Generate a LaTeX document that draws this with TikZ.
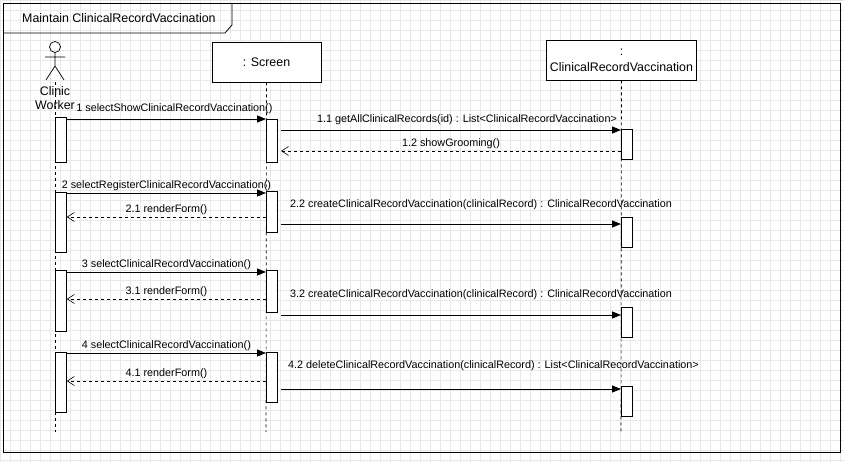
\documentclass[tikz,border=0pt]{standalone}
\usepackage{fontspec}
\setmainfont{Liberation Sans}
\usetikzlibrary{arrows.meta}
\begin{document}
\begin{tikzpicture}[x=1pt,y=-1pt,
  lbl/.style={font=\fontsize{10.8}{12}\selectfont,inner sep=0pt},
  act/.style={draw,fill=white,line width=0.8pt},
  life/.style={line width=0.6pt,dash pattern=on 3pt off 3pt},
  msg/.style={line width=0.8pt,-{Triangle[length=9pt,width=7pt]}},
  ret/.style={line width=0.6pt,dash pattern=on 3pt off 3pt,-{Straight Barb[length=7pt,width=9pt]}},
  obj/.style={draw,fill=white,line width=0.8pt,font=\fontsize{12.4}{16}\selectfont,align=center}]
\useasboundingbox (0,0) rectangle (844,462);
\fill[white] (0,0) rectangle (844,462);
\foreach \i in {0,10,...,840} \draw[black!9,line width=0.5pt] (\i,0) -- (\i,462);
\foreach \i in {0,10,...,460} \draw[black!9,line width=0.5pt] (0,\i) -- (844,\i);
% frame
\draw[line width=0.8pt] (3,3) rectangle (840,452);
\draw[line width=0.8pt] (3,33) -- (225,33) -- (232,25) -- (232,3);
\node[font=\fontsize{12.4}{14}\selectfont,anchor=west,inner sep=0pt] (title) at (22,18) {Maintain ClinicalRecordVaccination};
% actor
\draw[line width=0.7pt] (55,47) circle (5.5);
\draw[line width=0.7pt] (55,52.5) -- (55,66) (45,57) -- (65,57) (55,66) -- (46,80) (55,66) -- (64,80);
\node[font=\fontsize{12.4}{14}\selectfont,align=center,inner sep=0pt] (actor) at (55,98) {Clinic\\Worker};
\coordinate (a0) at (55,82); \coordinate (a1) at (55,432);
\draw[life] (a0) -- (a1);
% objects
\node[obj,minimum width=109,minimum height=40] (scr) at (266.5,62) {: Screen};
\node[obj,minimum width=149,minimum height=40] (crv) at (621.5,60) {:\\ClinicalRecordVaccination};
\coordinate (s1) at (266,432); \coordinate (c1) at (621,432);
\draw[life] (scr.south) -- (s1);
\draw[life] (crv.south) -- (c1);
% activations
\foreach \n/\x/\ya/\yb in {aA/55/117/162,aB/55/192/252,aC/55/270/331,aD/55/352/412,
  sA/266/119/162,sB/266/191/232,sC/266/270/312,sD/266/352/402,
  cA/621/129/159,cB/621/217/247,cC/621/307/337,cD/621/386/416}
  \node[act,minimum width=11,minimum height={\yb-\ya},inner sep=0pt,anchor=north west] (\n) at (\x,\ya) {};
% messages
\draw[msg] (aA.north east |- 0,119) -- (sA.north west |- 0,119) node[lbl,midway,above=5pt,xshift=8pt] (m1) {1 selectShowClinicalRecordVaccination()};
\draw[msg] (281,130) coordinate (p11) -- (cA.west |- 0,130) node[lbl,midway,above=5pt,xshift=16pt] (m11) {1.1 getAllClinicalRecords(id) : List<ClinicalRecordVaccination>};
\draw[ret] (cA.west |- 0,151) -- (281,151) node[lbl,midway,above=2pt] (m12) {1.2 showGrooming()};
\draw[msg] (aB.east |- 0,193) -- (sB.west |- 0,193) node[lbl,midway,above=2pt] (m2) {2 selectRegisterClinicalRecordVaccination()};
\draw[ret] (sB.west |- 0,217) -- (aB.east |- 0,217) node[lbl,midway,above=2pt] (m21) {2.1 renderForm()};
\draw[msg] (281,224) coordinate (p22) -- (cB.west |- 0,224);
\node[lbl,anchor=west] (m22) at (290,205) {2.2 createClinicalRecordVaccination(clinicalRecord) : ClinicalRecordVaccination};
\draw[msg] (aC.east |- 0,272) -- (sC.west |- 0,272) node[lbl,midway,above=2pt] (m3) {3 selectClinicalRecordVaccination()};
\draw[ret] (sC.west |- 0,299) -- (aC.east |- 0,299) node[lbl,midway,above=2pt] (m31) {3.1 renderForm()};
\draw[msg] (281,315) coordinate (p32) -- (cC.west |- 0,315);
\node[lbl,anchor=west] (m32) at (290,295) {3.2 createClinicalRecordVaccination(clinicalRecord) : ClinicalRecordVaccination};
\draw[msg] (aD.east |- 0,353) -- (sD.west |- 0,353) node[lbl,midway,above=2pt] (m4) {4 selectClinicalRecordVaccination()};
\draw[ret] (sD.west |- 0,381) -- (aD.east |- 0,381) node[lbl,midway,above=2pt] (m41) {4.1 renderForm()};
\draw[msg] (281,389) coordinate (p42) -- (cD.west |- 0,389);
\node[lbl,anchor=west] (m42) at (288,366) {4.2 deleteClinicalRecordVaccination(clinicalRecord) : List<ClinicalRecordVaccination>};
\end{tikzpicture}
\end{document}
